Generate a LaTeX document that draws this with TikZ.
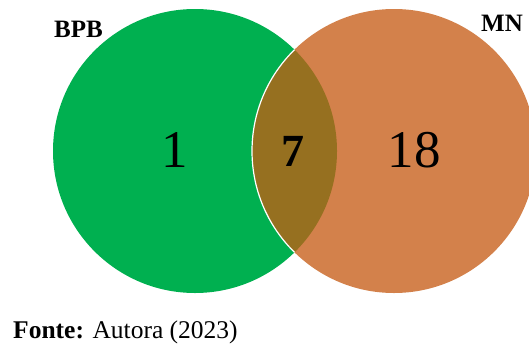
\documentclass[tikz,border=0pt]{standalone}
\usepackage{fontspec}
\setmainfont{Liberation Serif}
\definecolor{vgreen}{HTML}{00B050}
\definecolor{vorange}{HTML}{D3814B}
\definecolor{vmix}{HTML}{967020}
\begin{document}
\begin{tikzpicture}[x=1pt,y=-1pt,
  lbl/.style={inner sep=0pt,font=\bfseries\fontsize{25}{30}\selectfont},
  num/.style={inner sep=0pt,anchor=base,font=\fontsize{53}{60}\selectfont}]
\useasboundingbox (0,0) rectangle (529,343);
\coordinate (cg) at (195,151);
\coordinate (co) at (394,151);
\fill[vgreen] (cg) circle (142);
\fill[vorange] (co) circle (142);
\begin{scope}
  \clip (cg) circle (142);
  \fill[vmix] (co) circle (142);
  \draw[white,line width=1.2pt] (co) circle (142);
\end{scope}
\node[lbl,anchor=base west] (bpb) at (54,37) {BPB};
\node[lbl,anchor=base west] (mn) at (481,31) {MN};
\node[num] (n1) at (175,167) {1};
\node[num,font=\bfseries\fontsize{46}{52}\selectfont] (n7) at (293,166) {7};
\node[num] (n18) at (414,167) {18};
\node[inner sep=0pt,anchor=base west,font=\fontsize{25.5}{30}\selectfont] (src) at (13,338) {\textbf{Fonte:} Autora (2023)};
\end{tikzpicture}
\end{document}
